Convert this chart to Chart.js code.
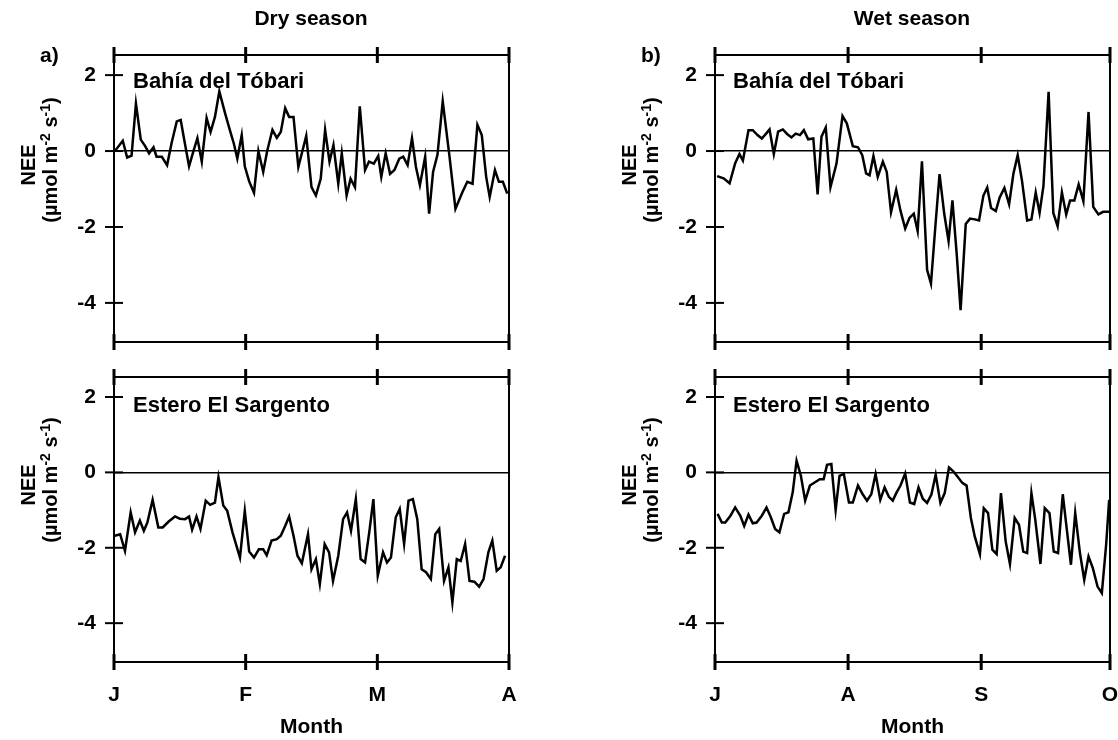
<!DOCTYPE html>
<html>
<head>
<meta charset="utf-8">
<script src="https://cdn.jsdelivr.net/npm/chart.js@4.4.1/dist/chart.umd.min.js"></script>
<style>
  body { margin: 0; background: #fff; }
  #fig { position: relative; width: 1118px; height: 740px; overflow: hidden; }
  canvas { position: absolute; }
  .t { position: absolute; font: bold 21px "Liberation Sans", Arial, sans-serif; line-height: 1; color: #000; white-space: nowrap; }
  .c { transform: translateX(-50%); }
  .s { font-size: 22px; }
  .v { font-size: 20px; transform: translate(-50%, -50%) rotate(-90deg); }
  .v sup { font-size: 14px; vertical-align: 7px; }
</style>
</head>
<body>
<div id="fig">
  <canvas id="dryTop" width="540" height="360" style="left:0;top:0"></canvas>
  <canvas id="dryBottom" width="540" height="380" style="left:0;top:360px"></canvas>
  <canvas id="wetTop" width="558" height="360" style="left:560px;top:0"></canvas>
  <canvas id="wetBottom" width="558" height="380" style="left:560px;top:360px"></canvas>

  <div class="t c" style="left:311px;top:7px">Dry season</div>
  <div class="t c" style="left:912px;top:7px">Wet season</div>
  <div class="t" style="left:40px;top:44px">a)</div>
  <div class="t" style="left:641px;top:44px">b)</div>

  <div class="t s" style="left:133px;top:70px">Bahía del Tóbari</div>
  <div class="t s" style="left:133px;top:394px">Estero El Sargento</div>
  <div class="t s" style="left:733px;top:70px">Bahía del Tóbari</div>
  <div class="t s" style="left:733px;top:394px">Estero El Sargento</div>

  <div class="t v" style="left:28px;top:165px">NEE</div>
  <div class="t v" style="left:49px;top:160px">(µmol m<sup>-2</sup> s<sup>-1</sup>)</div>
  <div class="t v" style="left:28px;top:485px">NEE</div>
  <div class="t v" style="left:49px;top:480px">(µmol m<sup>-2</sup> s<sup>-1</sup>)</div>
  <div class="t v" style="left:629px;top:165px">NEE</div>
  <div class="t v" style="left:650px;top:160px">(µmol m<sup>-2</sup> s<sup>-1</sup>)</div>
  <div class="t v" style="left:629px;top:485px">NEE</div>
  <div class="t v" style="left:650px;top:480px">(µmol m<sup>-2</sup> s<sup>-1</sup>)</div>
</div>
<script>
// month ticks (days from season start)
const dryMonths = ["J", "F", "M", "A"];
const dryMonthDays = [0, 30, 60, 90];
const wetMonths = ["J", "A", "S", "O"];
const wetMonthDays = [0, 31, 62, 92];
const neeTicks = [-4, -2, 0, 2];

// Dry season, Bahía del Tóbari
const dryTobariDay = [0.2, 2.0, 3.0, 4.0, 5.0, 6.1, 7.1, 8.0, 9.0, 9.7, 10.9, 12.1, 13.1, 14.3, 15.2, 16.0, 17.1, 18.1, 19.0, 20.0,
  21.1, 22.0, 23.0, 24.0, 25.3, 26.4, 27.3, 28.1, 29.1, 29.8, 30.8, 31.9, 32.9, 34.0, 34.9, 36.1, 37.1, 38.0, 39.0, 39.9,
  40.9, 42.0, 43.8, 45.0, 46.0, 47.1, 48.1, 49.1, 50.0, 51.1, 51.9, 53.0, 53.9, 54.9, 56.0, 57.2, 58.1, 59.2, 60.2, 60.9,
  61.9, 62.9, 63.9, 65.0, 65.9, 66.9, 67.9, 68.8, 69.7, 70.9, 71.8, 72.7, 73.7, 74.9, 76.4, 77.8, 79.4, 80.5, 81.7, 82.8,
  83.8, 84.8, 85.6, 86.8, 87.7, 88.6, 89.6];
const dryTobariNee = [0.0, 0.27, -0.17, -0.12, 1.25, 0.3, 0.13, -0.06, 0.1, -0.15, -0.15, -0.37, 0.2, 0.78, 0.82, 0.3, -0.4, 0.0, 0.34, -0.28,
  0.87, 0.5, 0.9, 1.57, 1.0, 0.55, 0.2, -0.2, 0.42, -0.4, -0.8, -1.1, 0.0, -0.55, 0.0, 0.56, 0.35, 0.5, 1.13, 0.9,
  0.9, -0.42, 0.4, -0.95, -1.17, -0.73, 0.56, -0.28, 0.16, -0.86, -0.06, -1.17, -0.73, -0.95, 1.18, -0.5, -0.28, -0.33, -0.13, -0.68,
  -0.06, -0.6, -0.5, -0.2, -0.15, -0.37, 0.34, -0.42, -0.9, -0.15, -1.65, -0.55, -0.1, 1.31, -0.1, -1.52, -1.08, -0.81, -0.86, 0.69,
  0.42, -0.68, -1.21, -0.5, -0.81, -0.81, -1.12];

// Dry season, Estero El Sargento
const drySargentoDay = [0.2, 1.4, 2.5, 3.8, 4.8, 5.9, 6.8, 7.6, 8.8, 10.1, 11.1, 12.4, 13.9, 15.0, 16.2, 17.1, 17.8, 18.8, 19.7, 20.9,
  21.9, 23.0, 23.8, 24.9, 25.8, 27.0, 28.7, 29.8, 30.8, 31.9, 33.0, 34.0, 34.8, 35.9, 37.1, 38.0, 39.0, 39.9, 40.9, 41.8,
  42.8, 44.2, 45.0, 46.0, 46.9, 48.0, 49.0, 49.9, 51.1, 52.2, 53.1, 54.0, 55.1, 56.2, 57.2, 58.2, 59.1, 60.1, 61.3, 62.2,
  63.1, 64.2, 65.1, 66.1, 67.1, 68.1, 69.1, 70.1, 71.1, 72.2, 73.2, 74.1, 75.2, 76.2, 77.1, 78.1, 79.0, 80.0, 81.0, 82.1,
  83.2, 84.2, 85.3, 86.2, 87.2, 88.1, 89.1];
const drySargentoNee = [-1.68, -1.64, -2.08, -1.06, -1.59, -1.28, -1.55, -1.33, -0.73, -1.46, -1.46, -1.31, -1.17, -1.23, -1.24, -1.17, -1.52, -1.17, -1.5, -0.75,
  -0.86, -0.8, -0.13, -0.88, -1.02, -1.59, -2.26, -1.02, -2.1, -2.26, -2.04, -2.04, -2.2, -1.81, -1.77, -1.68, -1.42, -1.17, -1.68, -2.21,
  -2.41, -1.64, -2.57, -2.3, -2.96, -1.9, -2.12, -2.88, -2.21, -1.24, -1.06, -1.55, -0.71, -2.3, -2.39, -1.55, -0.71, -2.74, -2.12, -2.39,
  -2.26, -1.19, -0.97, -1.9, -0.75, -0.71, -1.24, -2.57, -2.65, -2.83, -1.64, -1.5, -2.88, -2.52, -3.45, -2.3, -2.35, -1.9, -2.88, -2.9,
  -3.03, -2.83, -2.12, -1.81, -2.61, -2.52, -2.21];

// Wet season, Bahía del Tóbari
const wetTobariDay = [0.5, 2.0, 3.4, 4.7, 5.7, 6.5, 7.8, 8.8, 9.9, 10.9, 11.9, 12.7, 13.7, 14.7, 15.8, 16.8, 17.8, 18.8, 19.8, 20.7,
  21.7, 22.9, 23.9, 24.8, 25.8, 26.9, 28.3, 29.7, 30.7, 32.1, 33.3, 34.3, 35.2, 36.0, 36.9, 37.9, 39.1, 40.0, 41.0, 42.2,
  43.2, 44.3, 45.3, 46.3, 47.2, 48.2, 49.4, 50.3, 51.3, 52.3, 53.4, 54.4, 55.3, 56.3, 57.2, 58.4, 59.4, 60.5, 61.5, 62.5,
  63.4, 64.3, 65.4, 66.3, 67.4, 68.5, 69.5, 70.5, 71.5, 72.7, 73.7, 74.7, 75.6, 76.5, 77.7, 78.8, 79.8, 80.8, 81.8, 82.7,
  83.7, 84.7, 85.8, 87.0, 88.1, 89.3, 90.4, 91.8];
const wetTobariNee = [-0.66, -0.72, -0.85, -0.32, -0.08, -0.25, 0.55, 0.55, 0.42, 0.33, 0.46, 0.57, -0.08, 0.51, 0.57, 0.45, 0.36, 0.46, 0.42, 0.55,
  0.31, 0.33, -1.14, 0.38, 0.62, -0.95, -0.33, 0.92, 0.73, 0.13, 0.1, -0.11, -0.59, -0.64, -0.13, -0.68, -0.28, -0.55, -1.61, -1.02,
  -1.57, -2.04, -1.76, -1.65, -2.11, -0.27, -3.13, -3.49, -2.02, -0.61, -1.66, -2.37, -1.3, -2.72, -4.19, -1.92, -1.78, -1.8, -1.83, -1.18,
  -0.96, -1.5, -1.58, -1.22, -0.97, -1.4, -0.6, -0.11, -0.78, -1.83, -1.8, -1.09, -1.63, -0.92, 1.56, -1.63, -1.98, -1.09, -1.67, -1.3,
  -1.3, -0.88, -1.32, 1.03, -1.47, -1.67, -1.6, -1.6];

// Wet season, Estero El Sargento
const wetSargentoDay = [0.6, 1.6, 2.4, 3.6, 4.7, 5.9, 6.8, 7.8, 8.8, 9.7, 10.9, 12.0, 13.0, 14.0, 15.0, 16.1, 17.1, 18.1, 19.0, 20.0,
  21.0, 22.1, 23.2, 24.4, 25.3, 26.1, 27.1, 28.1, 29.0, 30.0, 31.2, 32.1, 33.3, 34.4, 35.4, 36.4, 37.4, 38.5, 39.5, 40.5,
  41.4, 42.3, 43.2, 44.3, 45.4, 46.4, 47.4, 48.4, 49.4, 50.4, 51.4, 52.5, 53.5, 54.5, 55.5, 56.6, 57.6, 58.6, 59.6, 60.5,
  61.7, 62.6, 63.6, 64.6, 65.6, 66.6, 67.7, 68.7, 69.8, 70.8, 71.8, 72.7, 73.7, 74.6, 75.8, 76.8, 77.9, 78.9, 79.9, 81.0,
  82.0, 82.9, 83.9, 85.0, 86.0, 87.0, 88.0, 89.1, 90.1, 91.1, 91.8];
const wetSargentoNee = [-1.1, -1.33, -1.33, -1.15, -0.93, -1.15, -1.42, -1.12, -1.35, -1.33, -1.15, -0.93, -1.19, -1.5, -1.59, -1.1, -1.06, -0.53, 0.31, -0.09,
  -0.75, -0.35, -0.27, -0.18, -0.18, 0.2, 0.22, -1.0, -0.09, -0.04, -0.8, -0.8, -0.35, -0.58, -0.75, -0.58, -0.04, -0.73, -0.4, -0.65,
  -0.75, -0.53, -0.35, -0.03, -0.8, -0.84, -0.4, -0.7, -0.81, -0.59, -0.06, -0.81, -0.55, 0.13, 0.03, -0.13, -0.28, -0.35, -1.21, -1.7,
  -2.17, -0.95, -1.08, -2.05, -2.17, -0.55, -1.83, -2.43, -1.21, -1.39, -2.1, -2.14, -0.55, -1.26, -2.43, -0.95, -1.08, -2.1, -2.14, -0.58,
  -1.57, -2.45, -1.08, -2.14, -2.85, -2.23, -2.54, -3.03, -3.2, -1.92, -0.73];

const font = { family: "'Liberation Sans', Arial, sans-serif", size: 21, weight: "bold" };

// box around the plot, ticks crossing the left, bottom and top edges
const frameTicks = {
  id: "frameTicks",
  afterDraw(chart) {
    const { ctx, chartArea: a, scales: { x, y } } = chart;
    ctx.save();
    ctx.strokeStyle = "#000";
    ctx.lineWidth = 2;
    ctx.strokeRect(a.left, a.top, a.right - a.left, a.bottom - a.top);
    y.ticks.forEach((t) => {
      const py = y.getPixelForValue(t.value);
      ctx.beginPath();
      ctx.moveTo(a.left - 9, py);
      ctx.lineTo(a.left + 9, py);
      ctx.stroke();
    });
    ctx.lineWidth = 3;
    x.ticks.forEach((t) => {
      const px = x.getPixelForValue(t.value);
      [a.top, a.bottom].forEach((edge) => {
        ctx.beginPath();
        ctx.moveTo(px, edge - 8);
        ctx.lineTo(px, edge + 8);
        ctx.stroke();
      });
    });
    ctx.restore();
  },
};

function panel(id, days, nee, monthDays, months, box) {
  return new Chart(document.getElementById(id), {
    type: "line",
    data: {
      datasets: [{
        data: days.map((d, i) => ({ x: d, y: nee[i] })),
        borderColor: "#000",
        borderWidth: 2.5,
        pointRadius: 0,
        tension: 0,
        fill: false,
      }],
    },
    options: {
      responsive: false,
      animation: false,
      devicePixelRatio: 1,
      layout: { padding: box.padding },
      plugins: { legend: { display: false }, tooltip: { enabled: false } },
      scales: {
        x: {
          type: "linear",
          min: 0,
          max: monthDays[monthDays.length - 1],
          afterBuildTicks: (s) => { s.ticks = monthDays.map((v) => ({ value: v })); },
          afterFit: (s) => { s.height = box.xHeight; s.paddingLeft = 0; s.paddingRight = 0; },
          grid: { display: false, drawTicks: false },
          border: { display: false },
          ticks: {
            display: box.labels,
            autoSkip: false,
            maxRotation: 0,
            padding: 21,
            color: "#000",
            font,
            callback: (v, i) => months[i],
          },
          title: { display: box.labels, text: "Month", color: "#000", font, padding: { top: 0, bottom: 0 } },
        },
        y: {
          min: -5.03,
          max: 2.53,
          afterBuildTicks: (s) => { s.ticks = neeTicks.map((v) => ({ value: v })); },
          afterFit: (s) => { s.width = box.yWidth; s.paddingTop = 0; s.paddingBottom = 0; },
          grid: {
            drawTicks: false,
            lineWidth: 1.5,
            color: (c) => (c.tick && c.tick.value === 0 ? "#000" : "rgba(0,0,0,0)"),
          },
          border: { display: false },
          ticks: { padding: 18, color: "#000", font },
        },
      },
    },
    plugins: [frameTicks],
  });
}

panel("dryTop", dryTobariDay, dryTobariNee, dryMonthDays, dryMonths,
  { yWidth: 114, xHeight: 18, labels: false, padding: { left: 0, right: 31, top: 55, bottom: 0 } });
panel("dryBottom", drySargentoDay, drySargentoNee, dryMonthDays, dryMonths,
  { yWidth: 114, xHeight: 78, labels: true, padding: { left: 0, right: 31, top: 17, bottom: 0 } });
panel("wetTop", wetTobariDay, wetTobariNee, wetMonthDays, wetMonths,
  { yWidth: 155, xHeight: 18, labels: false, padding: { left: 0, right: 8, top: 55, bottom: 0 } });
panel("wetBottom", wetSargentoDay, wetSargentoNee, wetMonthDays, wetMonths,
  { yWidth: 155, xHeight: 78, labels: true, padding: { left: 0, right: 8, top: 17, bottom: 0 } });
</script>
</body>
</html>
